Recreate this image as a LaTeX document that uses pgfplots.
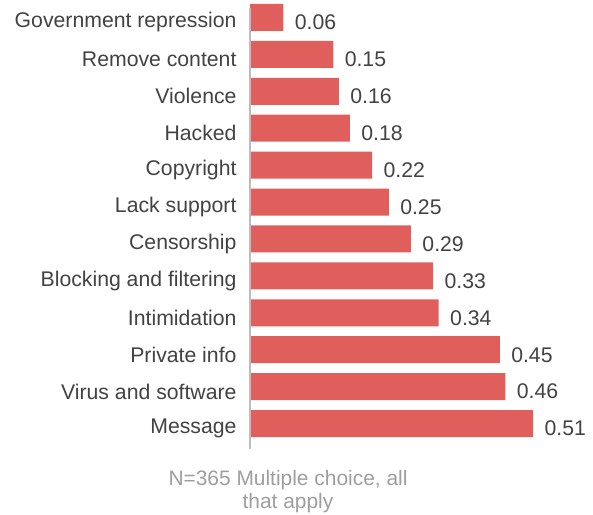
\documentclass[border=0pt]{standalone}
\usepackage{fontspec}
\setmainfont{Liberation Sans}
\usepackage{pgfplots}
\pgfplotsset{compat=1.18}

\definecolor{barred}{HTML}{E05F5C}
\definecolor{labtext}{HTML}{424242}
\definecolor{axgray}{HTML}{BDBDBD}
\definecolor{notegray}{HTML}{9E9E9E}

\begin{document}
\begin{tikzpicture}[x=1bp,y=1bp]
\useasboundingbox (0,0) rectangle (593,515);
\begin{axis}[
    at={(250bp,73bp)}, anchor=south west,
    scale only axis,
    width=333bp, height=443bp,
    xbar, bar width=27bp,
    xmin=0, xmax=0.6,
    ymin=-0.5, ymax=11.5,
    y dir=reverse,
    axis line style={draw=none},
    xtick=\empty,
    ytick={0,...,11},
    yticklabels={Government repression, Remove content, Violence, Hacked, Copyright, Lack support, Censorship, Blocking and filtering, Intimidation, Private info, Virus and software, Message},
    major tick length=0pt,
    yticklabel style={font=\fontsize{21.3}{24}\selectfont, text=labtext, xshift=-10bp, yshift=-5bp},
    nodes near coords,
    nodes near coords style={font=\fontsize{21.3}{24}\selectfont, text=labtext, xshift=8bp, yshift=-5bp,
        /pgf/number format/.cd, fixed, precision=2, zerofill, assume math mode=true},
    clip=false,
]
\addplot[fill=barred, draw=none] coordinates {
(0.06,0) (0.15,1) (0.16,2) (0.18,3) (0.22,4) (0.25,5)
(0.29,6) (0.33,7) (0.34,8) (0.45,9) (0.46,10) (0.51,11)};
\draw[axgray, line width=2bp] (axis cs:0,-0.25) -- (axis cs:0,11.7);
\end{axis}
\node[align=center, text=notegray, font=\fontsize{21}{23}\selectfont] at (288,23)
    {N=365 Multiple choice, all\\that apply};
\end{tikzpicture}
\end{document}
